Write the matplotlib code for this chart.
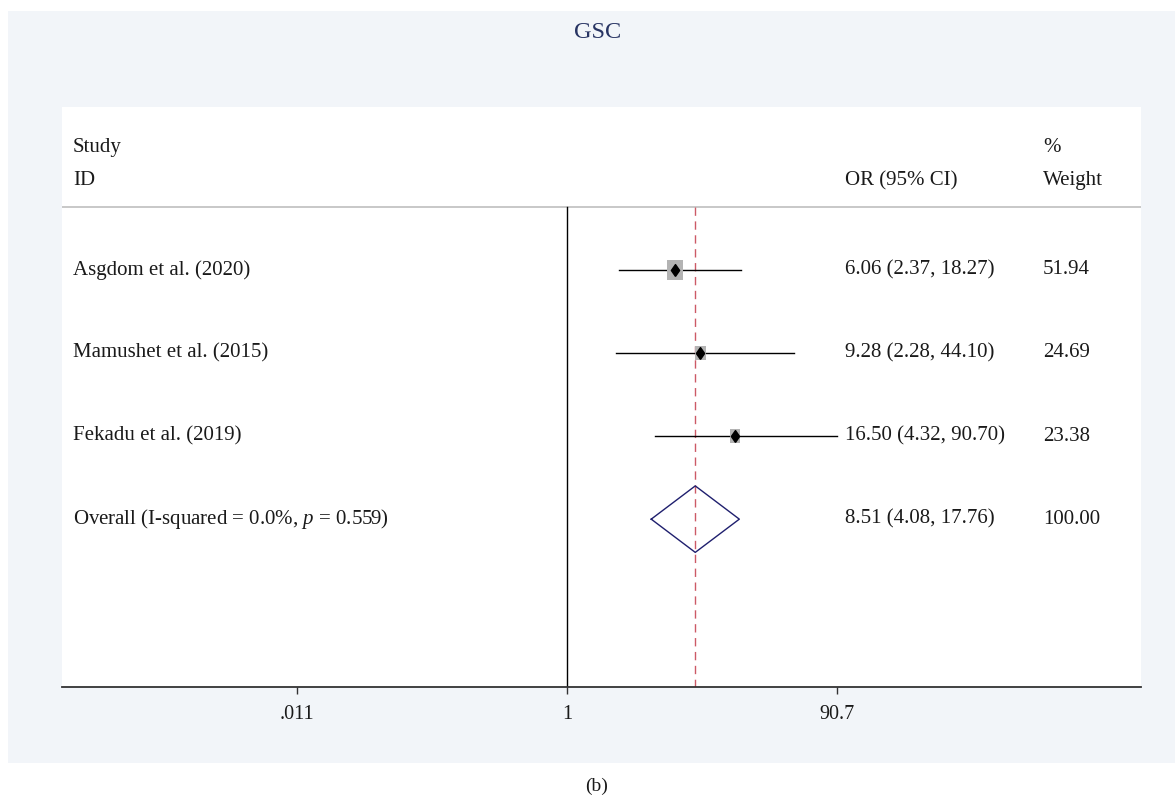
import matplotlib
matplotlib.use("Agg")
import matplotlib.pyplot as plt
import matplotlib.patches as mpatches
import numpy as np

plt.rcParams['font.family'] = ['Liberation Serif', 'DejaVu Serif']
plt.rcParams['mathtext.fontset'] = 'custom'
plt.rcParams['mathtext.rm'] = 'Liberation Serif'
plt.rcParams['mathtext.it'] = 'Liberation Serif:italic'

# ---- data ----
title = "GSC"
studies = ["Asgdom et al. (2020)", "Mamushet et al. (2015)", "Fekadu et al. (2019)"]
or_vals = [6.06, 9.28, 16.50]
ci_low = [2.37, 2.28, 4.32]
ci_high = [18.27, 44.10, 90.70]
weights = [51.94, 24.69, 23.38]
overall_label = "Overall (I-squared = 0.0%, $p$ = 0.559)"
overall_or = 8.51
overall_low = 4.08
overall_high = 17.76
overall_weight = 100.00
tick_vals = [0.011, 1, 90.7]
tick_labels = [".011", "1", "90.7"]
caption = "(b)"

W, H = 1175, 797
fig = plt.figure(figsize=(W / 100, H / 100), dpi=100)
fig.patch.set_facecolor('white')

# light panel background
bg = mpatches.Rectangle((8 / W, 1 - 763 / H), (W - 8) / W, (763 - 11) / H,
                        transform=fig.transFigure, facecolor='#f2f5f9',
                        edgecolor='none', zorder=-10)
fig.add_artist(bg)

left, right = 62 / W, 1141 / W
bottom, top = 1 - 687 / H, 1 - 107 / H
ax = fig.add_axes([left, bottom, right - left, top - bottom])
ax.set_zorder(1)
ax.set_facecolor('white')
ax.set_xscale('log')

# x limits: log axis with 1 at x=567px, .011/90.7 at +-270px
px_per_dec = 270 / np.log10(90.7)
x0 = 567
xmin = 10 ** ((62 - x0) / px_per_dec)
xmax = 10 ** ((1141 - x0) / px_per_dec)
ax.set_xlim(xmin, xmax)
ax.set_ylim(6.02, -0.96)

for s in ['top', 'right', 'left']:
    ax.spines[s].set_visible(False)
ax.spines['bottom'].set_color('#333333')
ax.spines['bottom'].set_linewidth(1.3)
ax.set_yticks([])
ax.set_xticks(tick_vals)
ax.set_xticklabels(tick_labels)
ax.xaxis.set_minor_locator(matplotlib.ticker.NullLocator())
ax.tick_params(axis='x', direction='out', length=5, width=1, color='#333333',
               labelsize=14.5, labelcolor='#1a1a1a', pad=8)

fs = 15
tc = '#1a1a1a'
header_y = 0.24
rows = np.arange(1, len(studies) + 1)
overall_row = len(studies) + 1

# header separator
ax.axhline(header_y, color='#c8c8c8', lw=1.4, zorder=1)

# null line and overall dashed line
ax.plot([1, 1], [header_y, 6.02], color='black', lw=1.0, zorder=2)
ax.plot([overall_or, overall_or], [header_y, 6.02], color='#cc5a66', lw=1.0,
        dashes=(6, 4), zorder=2)

# study rows
rect_marker = [(-0.78, -1), (0.78, -1), (0.78, 1), (-0.78, 1), (-0.78, -1)]
diam_marker = [(0, -1), (0.7, 0), (0, 1), (-0.7, 0), (0, -1)]
for i, r in enumerate(rows):
    ax.plot([ci_low[i], ci_high[i]], [r, r], color='black', lw=1.0, zorder=3)
    ax.scatter([or_vals[i]], [r], marker=rect_marker, s=3.9 * weights[i],
               color='#b3b3b3', edgecolors='none', zorder=3)
    ax.plot([or_vals[i]], [r], marker=diam_marker, markersize=8.5,
            color='black', zorder=4, linestyle='none')

# overall diamond
dx = [overall_low, overall_or, overall_high, overall_or, overall_low]
dy = [overall_row, overall_row - 0.4, overall_row, overall_row + 0.4, overall_row]
ax.plot(dx, dy, color='#1f1f6e', lw=1.0, zorder=4)

# text columns
tr = ax.get_yaxis_transform()
col_study = (73 - 62) / (1141 - 62)
col_or = (845 - 62) / (1141 - 62)
col_w = (1043 - 62) / (1141 - 62)
ax.text(col_study, -0.47, "Study", transform=tr, fontsize=fs, color=tc, va='center')
ax.text(col_study, -0.07, "ID", transform=tr, fontsize=fs, color=tc, va='center')
ax.text(col_or, -0.07, "OR (95% CI)", transform=tr, fontsize=fs, color=tc, va='center')
ax.text(col_w, -0.47, "%", transform=tr, fontsize=fs, color=tc, va='center')
ax.text(col_w, -0.07, "Weight", transform=tr, fontsize=fs, color=tc, va='center')

for i, r in enumerate(rows):
    ax.text(col_study, r, studies[i], transform=tr, fontsize=fs, color=tc, va='center')
    ax.text(col_or, r, f"{or_vals[i]:.2f} ({ci_low[i]:.2f}, {ci_high[i]:.2f})",
            transform=tr, fontsize=fs, color=tc, va='center')
    ax.text(col_w, r, f"{weights[i]:.2f}", transform=tr, fontsize=fs, color=tc, va='center')

ax.text(col_study, overall_row, overall_label, transform=tr, fontsize=fs, color=tc, va='center')
ax.text(col_or, overall_row, f"{overall_or:.2f} ({overall_low:.2f}, {overall_high:.2f})",
        transform=tr, fontsize=fs, color=tc, va='center')
ax.text(col_w, overall_row, f"{overall_weight:.2f}", transform=tr, fontsize=fs, color=tc, va='center')

# title and caption
fig.text(598 / W, 1 - 32 / H, title, ha='center', va='center', fontsize=17.5, color='#283463')
fig.text(597 / W, 1 - 786 / H, caption, ha='center', va='center', fontsize=14, color=tc)

fig.savefig("out.png", dpi=100, facecolor=fig.get_facecolor())
